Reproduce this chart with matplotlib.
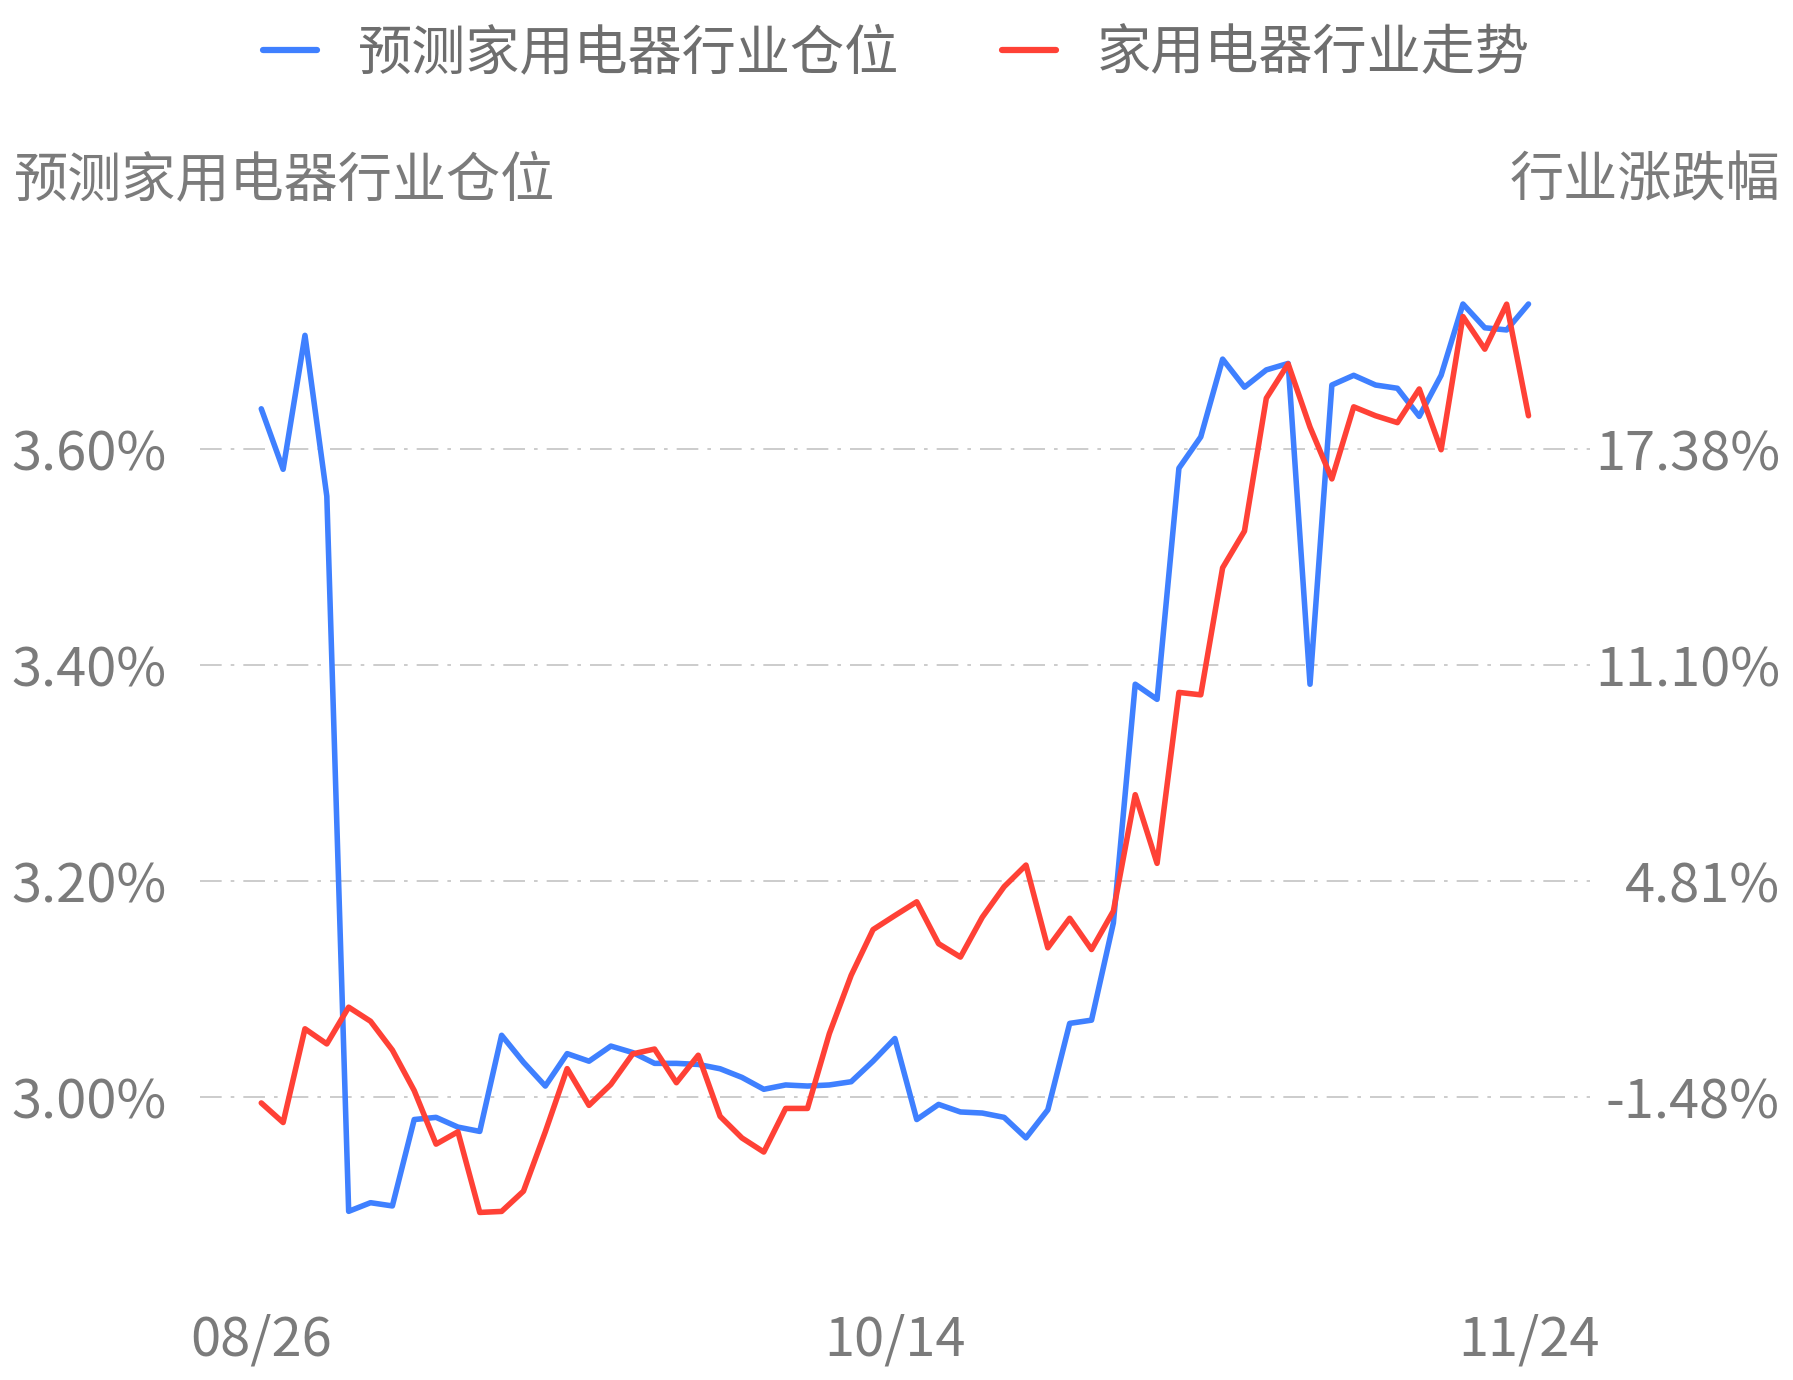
import matplotlib
matplotlib.use('Agg')
import matplotlib.pyplot as plt
from matplotlib.lines import Line2D

plt.rcParams['font.family'] = ['Noto Sans CJK SC', 'DejaVu Sans']

dates = ['08/26', '08/29', '08/30', '08/31', '09/01', '09/02', '09/05', '09/06', '09/07', '09/08',
         '09/09', '09/13', '09/14', '09/15', '09/16', '09/19', '09/20', '09/21', '09/22', '09/23',
         '09/26', '09/27', '09/28', '09/29', '09/30', '10/10', '10/11', '10/12', '10/13', '10/14',
         '10/17', '10/18', '10/19', '10/20', '10/21', '10/24', '10/25', '10/26', '10/27', '10/28',
         '10/31', '11/01', '11/02', '11/03', '11/04', '11/07', '11/08', '11/09', '11/10', '11/11',
         '11/14', '11/15', '11/16', '11/17', '11/18', '11/21', '11/22', '11/23', '11/24']

# predicted position (%), left axis
position = [3.637, 3.581, 3.705, 3.556, 2.894, 2.902, 2.899, 2.979, 2.981, 2.972,
            2.968, 3.057, 3.032, 3.010, 3.040, 3.033, 3.047, 3.041, 3.031, 3.031,
            3.030, 3.026, 3.018, 3.007, 3.011, 3.010, 3.011, 3.014, 3.033, 3.054,
            2.979, 2.993, 2.986, 2.985, 2.981, 2.962, 2.988, 3.068, 3.071, 3.161,
            3.382, 3.368, 3.582, 3.611, 3.683, 3.657, 3.673, 3.679, 3.382, 3.659,
            3.668, 3.659, 3.656, 3.630, 3.668, 3.734, 3.712, 3.710, 3.734]

# industry change (%), right axis
trend = [-1.66, -2.23, 0.50, 0.06, 1.13, 0.72, -0.12, -1.30, -2.86, -2.50,
         -4.85, -4.82, -4.23, -2.50, -0.66, -1.73, -1.12, -0.23, -0.09, -1.07,
         -0.27, -2.05, -2.68, -3.09, -1.82, -1.82, 0.36, 2.06, 3.39, 3.80,
         4.20, 2.98, 2.59, 3.75, 4.64, 5.27, 2.86, 3.72, 2.81, 3.93,
         7.32, 5.32, 10.30, 10.23, 13.93, 15.00, 18.87, 19.87, 18.03, 16.52,
         18.62, 18.36, 18.16, 19.14, 17.37, 21.25, 20.30, 21.61, 18.36]

left_ticks = [3.00, 3.20, 3.40, 3.60]
right_ticks = [-1.48, 4.81, 11.10, 17.38]
xtick_idx = [0, 29, 58]

blue = '#3f80ff'
red = '#ff4136'
grey = '#7b7b7b'

fig = plt.figure(figsize=(17.93, 13.8), dpi=100)
ax = fig.add_axes([0.1116, 0.105, 0.775, 0.688])
ax2 = ax.twinx()

x = list(range(len(dates)))
ax.plot(x, position, color=blue, lw=4.0, solid_joinstyle='round', solid_capstyle='round', zorder=3)
ax2.plot(x, trend, color=red, lw=4.0, solid_joinstyle='round', solid_capstyle='round', zorder=2)

ax.set_xlim(-2.8, 60.8)
ax.set_ylim(2.872, 3.751)
ax2.set_ylim(-5.51, 22.15)

ax.set_yticks(left_ticks)
ax.set_yticklabels(['%.2f%%' % v for v in left_ticks])
ax2.set_yticks(right_ticks)
ax2.set_yticklabels(['%.2f%%' % v for v in right_ticks])
ax.set_xticks(xtick_idx)
ax.set_xticklabels([dates[i] for i in xtick_idx])

ax.grid(axis='y', color='#c8c8c8', lw=1.3, linestyle=(0, (12, 5, 2, 5)))
ax.set_axisbelow(True)

for a in (ax, ax2):
    for s in a.spines.values():
        s.set_visible(False)
    a.tick_params(length=0, labelsize=39, labelcolor=grey)
ax.tick_params(axis='y', pad=24)
ax.tick_params(axis='x', pad=56)
ax2.tick_params(axis='y', pad=137)
for lbl in ax2.get_yticklabels():
    lbl.set_horizontalalignment('right')

fig.text(0.008, 0.869, '预测家用电器行业仓位', fontsize=39, color=grey, ha='left', va='center')
fig.text(0.993, 0.869, '行业涨跌幅', fontsize=39, color=grey, ha='right', va='center')

handles = [Line2D([], [], color=blue, lw=4.5, solid_capstyle='round'),
           Line2D([], [], color=red, lw=4.5, solid_capstyle='round')]
fig.legend(handles, ['预测家用电器行业仓位', '家用电器行业走势'], loc='center',
           bbox_to_anchor=(0.5, 0.961), ncol=2, frameon=False, fontsize=39,
           labelcolor='#6e6e6e', handlelength=1.0, handletextpad=0.75, columnspacing=1.9)

fig.savefig('out.png', dpi=100)
